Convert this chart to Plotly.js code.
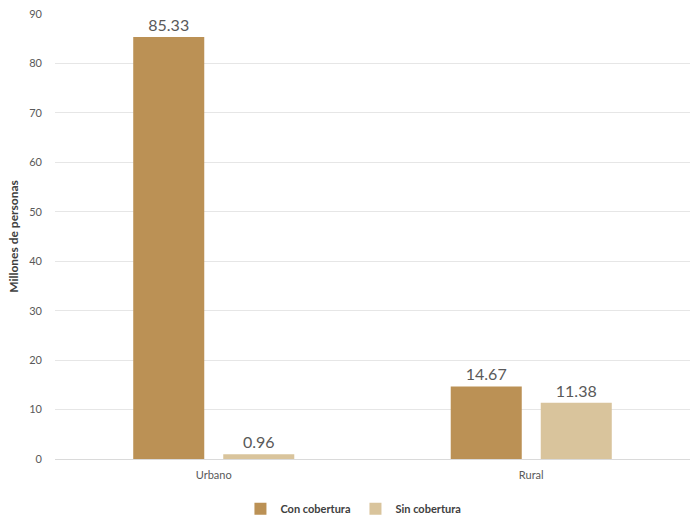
<!DOCTYPE html>
<html>
<head>
<meta charset="utf-8">
<script src="https://cdn.plot.ly/plotly-3.0.1.min.js"></script>
<style>html,body{margin:0;padding:0;background:#fff;}#chart{width:693px;height:519px;}</style>
</head>
<body>
<div id="chart"></div>
<script>
const categories = ["Urbano", "Rural"];
const conCobertura = [85.33, 14.67];
const sinCobertura = [0.96, 11.38];
const seriesNames = ["Con cobertura", "Sin cobertura"];
const yTicks = [0, 10, 20, 30, 40, 50, 60, 70, 80, 90];

const FONT = "Lato, 'Open Sans', sans-serif";
const mk = (vals, name, color) => ({
  type: 'bar', x: categories, y: vals, name: name,
  marker: {color: color},
  text: vals.map(v => v.toFixed(2)), textposition: 'outside',
  textfont: {family: FONT, size: 16, color: '#595959'},
  cliponaxis: false, hoverinfo: 'skip'
});
const data = [mk(conCobertura, seriesNames[0], '#BB9155'), mk(sinCobertura, seriesNames[1], '#D9C49C')];
const layout = {
  width: 693, height: 519,
  margin: {l: 55, r: 3, t: 14, b: 60, autoexpand: false},
  paper_bgcolor: '#fff', plot_bgcolor: '#fff',
  font: {family: FONT, color: '#595959'},
  barmode: 'group', bargap: 0.433, bargroupgap: 0.211,
  showlegend: true,
  legend: {orientation: 'h', x: 0.47, xanchor: 'center', y: -0.112, yanchor: 'middle',
           font: {family: FONT, size: 11, color: '#404040', weight: 'bold'}, itemwidth: 30, traceorder: 'normal'},
  xaxis: {showline: false, ticks: 'outside', ticklen: 6, tickcolor: 'rgba(0,0,0,0)',
          tickfont: {size: 11, color: '#595959'}, fixedrange: true},
  yaxis: {range: [0, 90], tickvals: yTicks, showgrid: true, gridcolor: '#E6E6E6', gridwidth: 1,
          zeroline: true, zerolinecolor: '#DADADA', ticks: '', ticklen: 0,
          tickfont: {size: 11, color: '#595959'}, ticklabelstandoff: 12,
          title: {text: 'Millones de personas', font: {size: 12, color: '#404040', weight: 'bold'}, standoff: 8}}
};
Plotly.newPlot('chart', data, layout, {displayModeBar: false, staticPlot: true});
</script>
</body>
</html>
